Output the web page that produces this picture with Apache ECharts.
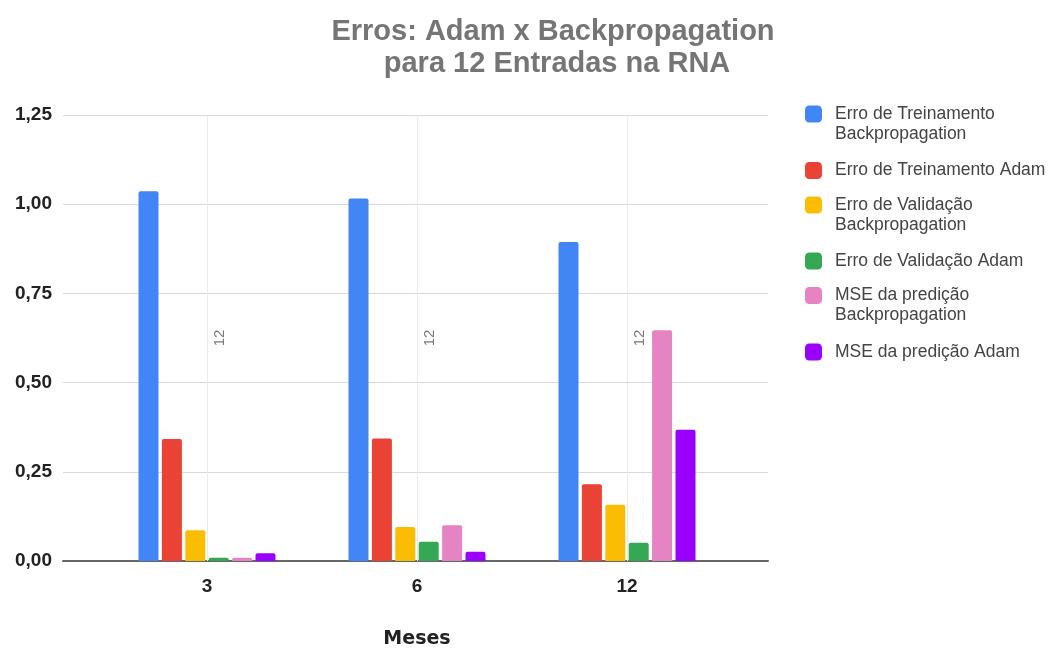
<!DOCTYPE html>
<html>
<head>
<meta charset="utf-8">
<script src="https://cdn.jsdelivr.net/npm/echarts@6/dist/echarts.min.js"></script>
<style>
  html, body { margin: 0; padding: 0; background: #ffffff; }
  #chart { width: 1055px; height: 648px; }
</style>
</head>
<body>
<div id="chart"></div>
<script>
// Meses de previsão (eixo X)
const categories = ['3', '6', '12'];

// Erros por configuração
const treinoBackprop = [1.036, 1.016, 0.894];
const treinoAdam     = [0.342, 0.343, 0.215];
const validBackprop  = [0.086, 0.095, 0.158];
const validAdam      = [0.009, 0.054, 0.051];
const mseBackprop    = [0.009, 0.100, 0.647];
const mseAdam        = [0.022, 0.026, 0.368];

// Rótulos do eixo Y
const yTickLabels = ['0,00', '0,25', '0,50', '0,75', '1,00', '1,25'];
const yStep = 0.25;

// Rótulo das linhas verticais (número de entradas)
const entradasLabel = '12';

const seriesDefs = [
  { name: 'Erro de Treinamento\nBackpropagation', data: treinoBackprop, color: '#4285F4', lines: 2, top: 84 },
  { name: 'Erro de Treinamento Adam',             data: treinoAdam,     color: '#EA4335', lines: 1, top: 160.5 },
  { name: 'Erro de Validação\nBackpropagation',   data: validBackprop,  color: '#FBBC04', lines: 2, top: 175 },
  { name: 'Erro de Validação Adam',               data: validAdam,      color: '#34A853', lines: 1, top: 251 },
  { name: 'MSE da predição\nBackpropagation',     data: mseBackprop,    color: '#E683C3', lines: 2, top: 265.5 },
  { name: 'MSE da predição Adam',                 data: mseAdam,        color: '#9900FF', lines: 1, top: 342 }
];

const LINE_H = 20;
const FONT = 'Liberation Sans, Arial, sans-serif';

const series = seriesDefs.map(s => ({
  name: s.name,
  type: 'bar',
  xAxisIndex: 1,
  yAxisIndex: 1,
  data: s.data,
  barWidth: 20,
  barGap: '17%',
  itemStyle: { color: s.color, borderRadius: [2, 2, 0, 0] },
  emphasis: { disabled: true }
}));

// Linhas verticais no centro de cada categoria
series.unshift({
  name: 'entradas',
  type: 'line',
  xAxisIndex: 1,
  yAxisIndex: 1,
  data: [],
  silent: true,
  markLine: {
    silent: true,
    symbol: 'none',
    lineStyle: { color: '#ebebeb', width: 1, type: 'solid' },
    label: {
      show: true,
      position: 'insideMiddleBottom',
      distance: 5,
      formatter: entradasLabel,
      color: '#7a7a7a',
      fontSize: 15,
      fontFamily: FONT
    },
    emphasis: { disabled: true },
    data: categories.map(c => ({ xAxis: c }))
  }
});

// Uma legenda por série; a linha em branco no início mantém o ícone
// alinhado com a primeira linha dos nomes em duas linhas
const legends = seriesDefs.map(s => ({
  orient: 'vertical',
  left: 805,
  top: s.top,
  padding: 0,
  itemWidth: 17,
  itemHeight: 17,
  icon: 'roundRect',
  selectedMode: false,
  data: [s.name],
  formatter: s.lines === 2 ? (n => ' \n' + n) : (n => n),
  textStyle: {
    color: '#444444',
    fontSize: 17.5,
    lineHeight: LINE_H,
    fontFamily: FONT,
    padding: [0, 0, 0, 8]
  }
}));

const chart = echarts.init(document.getElementById('chart'), null, { renderer: 'canvas' });

chart.setOption({
  backgroundColor: '#ffffff',
  animation: false,
  title: {
    text: 'Erros: Adam x Backpropagation\n para 12 Entradas na RNA',
    left: 548,
    top: 11,
    textAlign: 'center',
    textStyle: {
      color: '#757575',
      fontSize: 29,
      fontWeight: 'bold',
      lineHeight: 32,
      fontFamily: FONT
    }
  },
  legend: legends,
  grid: [
    { left: 63, right: 287, top: 115, bottom: 87, outerBoundsMode: 'none', containLabel: false },
    { left: 102, right: 323, top: 115, bottom: 87, outerBoundsMode: 'none', containLabel: false }
  ],
  xAxis: [
    {
      gridIndex: 0,
      type: 'category',
      data: categories,
      axisLine: { show: true, lineStyle: { color: '#666666', width: 2 } },
      axisTick: { show: false },
      axisLabel: { show: false },
      splitLine: { show: false }
    },
    {
      gridIndex: 1,
      type: 'category',
      data: categories,
      axisLine: { show: false },
      axisTick: { show: false },
      splitLine: { show: false },
      axisLabel: {
        margin: 16,
        color: '#222222',
        fontSize: 19,
        fontWeight: 'bold',
        fontFamily: FONT
      },
      name: 'Meses',
      nameLocation: 'middle',
      nameGap: 69,
      nameTextStyle: {
        color: '#222222',
        fontSize: 19,
        fontWeight: 'bold',
        fontFamily: 'DejaVu Sans, sans-serif'
      }
    }
  ],
  yAxis: [
    {
      gridIndex: 0,
      type: 'value',
      min: 0,
      max: 1.25,
      interval: yStep,
      axisLine: { show: false },
      axisTick: { show: false },
      splitLine: { show: true, lineStyle: { color: '#d9d9d9', width: 1 } },
      axisLabel: {
        margin: 11,
        color: '#222222',
        fontSize: 19,
        fontWeight: 'bold',
        fontFamily: FONT,
        formatter: v => yTickLabels[Math.round(v / yStep)]
      }
    },
    {
      gridIndex: 1,
      type: 'value',
      min: 0,
      max: 1.25,
      interval: yStep,
      show: false,
      splitLine: { show: false }
    }
  ],
  series: series
});
</script>
</body>
</html>
